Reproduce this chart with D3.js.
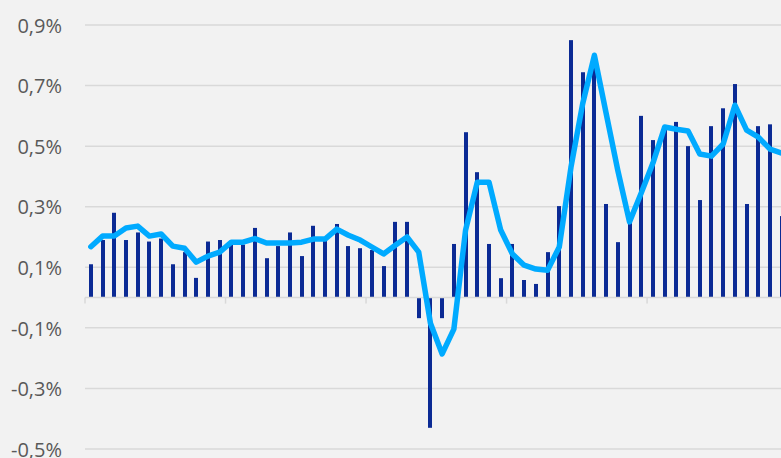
<!DOCTYPE html>
<html>
<head>
<meta charset="utf-8">
<script src="https://cdn.jsdelivr.net/npm/d3@7"></script>
<style>
  html, body { margin: 0; padding: 0; background: #f2f2f2; }
  svg { display: block; }
</style>
</head>
<body>
<svg id="chart" width="781" height="458"></svg>
<script>
// Monthly change (bars) and its smoothed trend (line), in percent
const months = d3.range(60).map(i => `${2019 + Math.floor(i / 12)}-${String(i % 12 + 1).padStart(2, "0")}`);

const monthlyChange = [
  0.11, 0.19, 0.28, 0.19, 0.215, 0.185, 0.195, 0.11, 0.15, 0.065, 0.185, 0.19,
  0.175, 0.175, 0.23, 0.13, 0.17, 0.215, 0.137, 0.237, 0.19, 0.243, 0.17, 0.163,
  0.157, 0.104, 0.25, 0.25, -0.068, -0.43, -0.068, 0.177, 0.546, 0.414, 0.177, 0.064,
  0.177, 0.058, 0.045, 0.15, 0.302, 0.85, 0.744, 0.76, 0.309, 0.183, 0.25, 0.6,
  0.52, 0.56, 0.58, 0.5, 0.322, 0.566, 0.625, 0.705, 0.309, 0.566, 0.572, 0.269
];

const trend = [
  0.168, 0.203, 0.203, 0.23, 0.236, 0.203, 0.21, 0.17, 0.163, 0.117, 0.137, 0.15,
  0.183, 0.183, 0.195, 0.18, 0.18, 0.18, 0.183, 0.193, 0.193, 0.226, 0.206, 0.19,
  0.167, 0.144, 0.173, 0.2, 0.15, -0.085, -0.186, -0.104, 0.223, 0.381, 0.381, 0.223,
  0.144, 0.107, 0.094, 0.09, 0.167, 0.43, 0.64, 0.80, 0.609, 0.42, 0.25, 0.345,
  0.444, 0.563, 0.556, 0.55, 0.474, 0.467, 0.507, 0.635, 0.553, 0.53, 0.49, 0.477
];

const yTicks = [-0.5, -0.3, -0.1, 0.1, 0.3, 0.5, 0.7, 0.9];
const yearStarts = months.filter((m, i) => i % 12 === 0);

const svg = d3.select("#chart");
const left = 85, bandW = 11.71;

const x = d3.scaleBand()
  .domain(months)
  .range([left, left + months.length * bandW])
  .paddingInner(0).paddingOuter(0);

const y = d3.scaleLinear().domain([-0.5, 0.9]).range([449, 25]);

const fmt = v => d3.format(".1f")(v).replace(".", ",").replace("−", "-") + "%";

// horizontal gridlines
svg.append("g")
  .selectAll("line")
  .data(yTicks)
  .join("line")
  .attr("x1", left).attr("x2", 781)
  .attr("y1", d => y(d)).attr("y2", d => y(d))
  .attr("stroke", "#d9d9d9").attr("stroke-width", 1.5);

// y labels
const yAxis = d3.axisLeft(y).tickValues(yTicks).tickFormat(fmt).tickSize(0).tickPadding(0);
const gy = svg.append("g").attr("transform", "translate(62,0)").call(yAxis);
gy.select(".domain").remove();
gy.selectAll("text")
  .attr("fill", "#595959")
  .attr("dy", "0.36em")
  .style("font-family", "'Open Sans', 'Noto Sans', sans-serif")
  .style("font-size", "20px");

// bars
svg.append("g")
  .selectAll("rect")
  .data(monthlyChange)
  .join("rect")
  .attr("x", (d, i) => Math.round(x(months[i]) + x.bandwidth() / 2 - 2))
  .attr("width", 4)
  .attr("y", d => Math.min(y(d), y(0)))
  .attr("height", d => Math.abs(y(d) - y(0)))
  .attr("fill", "#0b2a94");

// category axis at zero with year ticks
const gx = svg.append("g").attr("transform", `translate(0,${y(0)})`);
gx.append("line")
  .attr("x1", left).attr("x2", 781)
  .attr("stroke", "#d9d9d9").attr("stroke-width", 1.5);
gx.selectAll("line.tick")
  .data(yearStarts)
  .join("line")
  .attr("class", "tick")
  .attr("x1", d => x(d)).attr("x2", d => x(d))
  .attr("y1", 0).attr("y2", 6)
  .attr("stroke", "#d9d9d9").attr("stroke-width", 1.5);

// trend line
const line = d3.line()
  .x((d, i) => x(months[i]) + x.bandwidth() / 2)
  .y(d => y(d));

svg.append("path")
  .datum(trend)
  .attr("d", line)
  .attr("fill", "none")
  .attr("stroke", "#00aaff")
  .attr("stroke-width", 5.5)
  .attr("stroke-linejoin", "round")
  .attr("stroke-linecap", "round");
</script>
</body>
</html>
